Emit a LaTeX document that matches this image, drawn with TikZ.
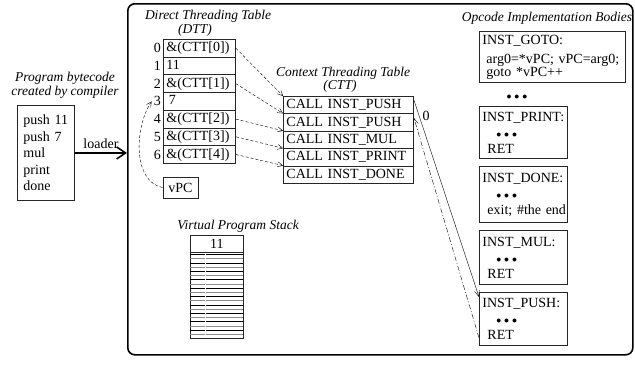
\documentclass[tikz,border=0pt]{standalone}
\usepackage{fontspec}
\setmainfont{Liberation Serif}
\usetikzlibrary{arrows.meta}

\newcommand{\threedots}{$\scriptstyle\bullet\;\bullet\;\bullet$}

\tikzset{
  dttcell/.style={draw=black!85, line width=0.9pt, anchor=north west, text width=66pt,
    inner xsep=3pt, inner ysep=0pt, minimum height=17.7pt, text height=10pt, text depth=3pt, align=left},
  cttcell/.style={dttcell, text width=124pt, minimum height=17.4pt},
  body/.style={draw=black!85, line width=0.9pt, anchor=north west, text width=82pt,
    inner xsep=3pt, inner ysep=2pt, minimum height=52pt, align=left},
  title/.style={font=\fontsize{13.5}{14}\selectfont\itshape},
  idx/.style={anchor=east, inner sep=2pt},
  ptr/.style={dash pattern=on 3pt off 2pt, -{Straight Barb[length=5pt,width=5pt]}},
}

\begin{document}
\begin{tikzpicture}[x=1pt, y=-1pt, font=\fontsize{14}{16}\selectfont]
            \useasboundingbox (0,0) rectangle (635,383);

            % program and loader
            \node[title, align=center] (progtitle) at (65,85) {Program bytecode\\created by compiler};
            \node[draw=black!85, line width=0.9pt, anchor=north west, text width=45pt, inner xsep=6pt,
                  minimum height=95pt, align=left, font=\fontsize{14}{16.5}\selectfont] (prog) at (17,105)
                  {push 11\\push 7\\mul\\print\\done};
            \node[draw, line width=1.6pt, rounded corners=7pt, anchor=north west, inner sep=0pt,
                  minimum width=505pt, minimum height=351pt] (vm) at (127,3) {};
            \draw[line width=1.5pt, -{Straight Barb[length=9pt,width=12pt]}] (prog.east) -- (prog.east -| vm.west)
                  node[midway, above] (ldr) {loader};

            % direct threading table
            \node[title] (dtttitle) at (208,16) {Direct Threading Table};
            \node[title] (dttsub) at (195,30) {(DTT)};
            \node[dttcell] (dtt0) at (163,39) {\&(CTT[0])};
            \node[dttcell] (dtt1) at (163,56.7) {11};
            \node[dttcell] (dtt2) at (163,74.4) {\&(CTT[1])};
            \node[dttcell] (dtt3) at (163,92.1) {\,7};
            \node[dttcell] (dtt4) at (163,109.8) {\&(CTT[2])};
            \node[dttcell] (dtt5) at (163,127.5) {\&(CTT[3])};
            \node[dttcell] (dtt6) at (163,145.2) {\&(CTT[4])};
            \node[idx] (i0) at (dtt0.west) {0};
            \node[idx] (i1) at (dtt1.west) {1};
            \node[idx] (i2) at (dtt2.west) {2};
            \node[idx] (i3) at (dtt3.west) {3};
            \node[idx] (i4) at (dtt4.west) {4};
            \node[idx] (i5) at (dtt5.west) {5};
            \node[idx] (i6) at (dtt6.west) {6};

            \node[draw=black!85, line width=0.9pt, minimum width=35pt, minimum height=21pt, inner sep=0pt] (vpc) at (180.5,187.5) {vPC};
            \draw[ptr] (vpc.west) .. controls (133,182) and (134,128) .. (i3.west);

            % context threading table
            \node[title] (ctttitle) at (343,73) {Context Threading Table};
            \node[title] (cttsub) at (340,86) {(CTT)};
            \node[cttcell] (ctt0) at (283,96) {CALL INST\_PUSH};
            \node[cttcell] (ctt1) at (283,113.4) {CALL INST\_PUSH};
            \node[cttcell] (ctt2) at (283,130.8) {CALL INST\_MUL};
            \node[cttcell] (ctt3) at (283,148.2) {CALL INST\_PRINT};
            \node[cttcell] (ctt4) at (283,165.6) {CALL INST\_DONE};

            \draw[ptr] (dtt0.east) -- (ctt0.north west);
            \draw[ptr] (dtt2.east) -- (ctt1.north west);
            \draw[ptr] (dtt4.east) -- (ctt2.north west);
            \draw[ptr] (dtt5.east) -- (ctt3.north west);
            \draw[ptr] (dtt6.east) -- (ctt4.north west);

            % virtual program stack
            \node[title] (stktitle) at (238,226) {Virtual Program Stack};
            \node[draw=black!85, line width=0.9pt, anchor=north west, minimum width=53pt, minimum height=17pt, inner sep=0pt] (stktop) at (190,235) {11};
            \node[draw=black!85, line width=0.9pt, anchor=north west, minimum width=53pt, minimum height=86pt, inner sep=0pt] (stk) at (190,252) {};
            \foreach \k in {0,...,9} {
              \draw[black, line width=0.8pt] (190,254.5+8.4*\k) -- (243,254.5+8.4*\k);
              \draw[black!45, line width=0.8pt] (190,258.7+8.4*\k) -- (243,258.7+8.4*\k);
            }
            \draw[white, line width=1pt] (205,253) -- (205,337);

            % opcode bodies
            \node[title] (opctitle) at (547,18) {Opcode Implementation Bodies};
            \node[body, text width=140pt, minimum height=51pt] (igoto) at (479,31)
                  {INST\_GOTO:\\[3pt]\hspace*{4pt}arg0=*vPC; vPC=arg0;\\[-3pt]\hspace*{4pt}goto *vPC++};
            \node (gdots) at (517,97) {\threedots};
            \node[body] (iprint) at (479,106) {INST\_PRINT:\\\hspace*{14pt}\threedots\\\hspace*{5pt}RET};
            \node[body, minimum height=56pt] (idone) at (479,166) {INST\_DONE:\\\hspace*{14pt}\threedots\\\hspace*{5pt}\mbox{exit; \#the end}};
            \node[body, minimum height=54pt] (imul) at (479,230) {INST\_MUL:\\\hspace*{14pt}\threedots\\\hspace*{5pt}RET};
            \node[body, minimum height=53pt] (ipush) at (479,292) {INST\_PUSH:\\\hspace*{14pt}\threedots\\\hspace*{5pt}RET};

            \draw[-{Straight Barb[length=6pt,width=5pt]}] ([yshift=-4pt]ctt0.north east) -- ([yshift=-5pt]ipush.north west)
                  node[pos=0.08, right] (zero) {0};
            \draw[dash pattern=on 5pt off 2pt on 1pt off 2pt, -{Straight Barb[length=6pt,width=5pt]}]
                  ([yshift=8pt]ipush.south west) -- ([yshift=-4.5pt]ctt1.north east);
        \end{tikzpicture}
\end{document}
